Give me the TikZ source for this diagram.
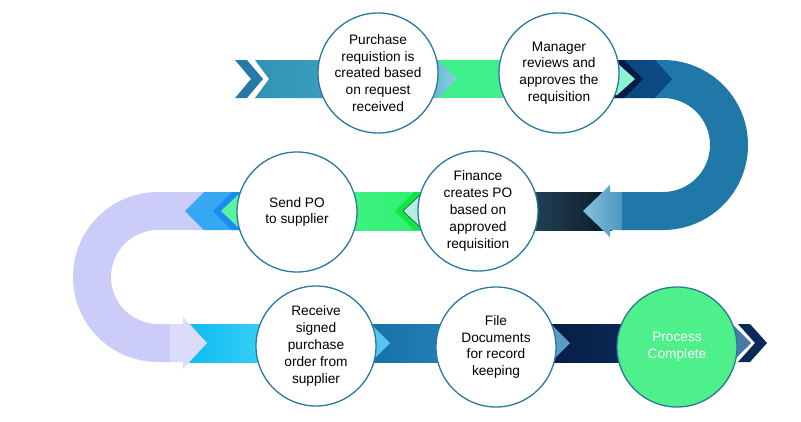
\documentclass[tikz,border=0pt]{standalone}
\usepackage{fontspec}
\setmainfont{Liberation Sans}
\definecolor{rimblue}{RGB}{42,120,160}
\definecolor{leadblue}{RGB}{40,120,168}
\definecolor{tealA}{RGB}{47,147,181}
\definecolor{tealB}{RGB}{74,174,200}
\definecolor{tealtip}{RGB}{141,208,223}
\definecolor{toplime}{RGB}{63,240,138}
\definecolor{navyband}{RGB}{10,74,128}
\definecolor{deepnavy}{RGB}{8,26,72}
\definecolor{mint}{RGB}{138,245,208}
\definecolor{bendblue}{RGB}{31,120,168}
\definecolor{arrowA}{RGB}{134,192,218}
\definecolor{arrowB}{RGB}{77,152,192}
\definecolor{slateA}{RGB}{37,68,90}
\definecolor{slateB}{RGB}{11,26,40}
\definecolor{midlimeA}{RGB}{90,244,160}
\definecolor{midlimeB}{RGB}{46,240,112}
\definecolor{brightlime}{RGB}{16,230,64}
\definecolor{palemint}{RGB}{181,240,221}
\definecolor{skyblue}{RGB}{54,168,242}
\definecolor{skydeep}{RGB}{26,140,240}
\definecolor{lavender}{RGB}{203,205,248}
\definecolor{lavlight}{RGB}{220,220,250}
\definecolor{cyanA}{RGB}{12,188,240}
\definecolor{cyanB}{RGB}{76,216,248}
\definecolor{cyantip}{RGB}{86,198,240}
\definecolor{oceanA}{RGB}{22,112,168}
\definecolor{oceanB}{RGB}{42,132,188}
\definecolor{oceantip}{RGB}{90,156,200}
\definecolor{nightA}{RGB}{6,28,68}
\definecolor{nightB}{RGB}{12,45,92}
\definecolor{endtip}{RGB}{74,120,168}
\definecolor{endnavy}{RGB}{10,40,88}
\definecolor{donegreen}{RGB}{77,240,138}
\tikzset{
  stepcircle/.style={circle, draw=rimblue, line width=1.3pt, fill=white, minimum size=120pt,
    inner sep=0pt, align=center, font=\fontsize{13.7}{16.8}\selectfont},
}

\begin{document}
\begin{tikzpicture}[x=1pt, y=-1pt]
  \useasboundingbox (0,0) rectangle (801,421);

  % bends
  \fill[bendblue] (650,60) -- (663,60) arc[start angle=-90, end angle=90, radius=85] -- (622,230) -- (622,192)
    -- (663,192) arc[start angle=90, end angle=-90, radius=47] -- (650,98) -- cycle;
  \fill[lavender] (205,192) -- (158,192) arc[start angle=-90, end angle=-270, radius=85] -- (170,362) -- (170,324)
    -- (158,324) arc[start angle=90, end angle=270, radius=47] -- (205,230) -- cycle;

  % top row
  \fill[toplime] (436,60) -- (612,60) -- (612,98) -- (436,98) -- cycle;
  \fill[leadblue] (235,60) -- (247,60) -- (263,79) -- (247,98) -- (235,98) -- (251,79) -- cycle;
  \shade[left color=tealA, right color=tealB] (255,60) -- (430,60) -- (430,98) -- (255,98) -- (269,79) -- cycle;
  \shade[left color=tealB, right color=tealtip] (420,60) -- (438,60) -- (457,79) -- (438,98) -- (420,98) -- cycle;
  \fill[navyband] (600,60) -- (655,60) -- (672,79) -- (655,98) -- (600,98) -- cycle;
  \fill[deepnavy] (600,60) -- (624,60) -- (643,79) -- (624,98) -- (600,98) -- cycle;
  \fill[mint] (600,63) -- (617,63) -- (635,79) -- (617,95) -- (600,95) -- cycle;

  % middle row
  \shade[left color=slateA, right color=slateB] (525,192) -- (612,192) -- (612,230) -- (525,230) -- cycle;
  \shade[left color=arrowA, right color=arrowB] (622,192) -- (610,192) -- (610,185) -- (583,211) -- (610,237)
    -- (610,230) -- (622,230) -- cycle;
  \shade[left color=midlimeA, right color=midlimeB] (240,192) -- (425,192) -- (425,230) -- (240,230) -- cycle;
  \fill[brightlime] (430,192) -- (414,192) -- (395,211) -- (414,230) -- (430,230) -- cycle;
  \filldraw[fill=palemint, draw=slateA, line width=0.6pt] (430,194) -- (421,194) -- (403,211) -- (421,228) -- (430,228) -- cycle;
  \fill[skyblue] (250,192) -- (204,192) -- (185,211) -- (204,230) -- (250,230) -- cycle;
  \fill[skydeep] (250,192) -- (232,192) -- (213,211) -- (232,230) -- (250,230) -- cycle;
  \fill[midlimeA] (250,195) -- (238,195) -- (221,211) -- (238,227) -- (250,227) -- cycle;

  % bottom row
  \shade[left color=cyanA, right color=cyanB] (185,324) -- (300,324) -- (300,362) -- (185,362) -- cycle;
  \fill[lavlight] (170,324) -- (183,324) -- (183,317) -- (207,343) -- (183,369) -- (183,362) -- (170,362) -- cycle;
  \shade[left color=oceanA, right color=oceanB] (360,324) -- (480,324) -- (480,362) -- (360,362) -- cycle;
  \fill[cyantip] (360,326) -- (373,326) -- (390,343) -- (373,360) -- (360,360) -- cycle;
  \shade[left color=nightA, right color=nightB] (540,324) -- (660,324) -- (660,362) -- (540,362) -- cycle;
  \fill[oceantip] (540,326) -- (553,326) -- (570,343) -- (553,360) -- (540,360) -- cycle;
  \fill[endtip] (720,326) -- (734,326) -- (751,343) -- (734,360) -- (720,360) -- cycle;
  \fill[endnavy] (738,324) -- (750,324) -- (767,343) -- (750,362) -- (738,362) -- (755,343) -- cycle;

  % steps
  \node[stepcircle] (request) at (378,73) {Purchase\\requistion is\\created based\\on request\\received};
  \node[stepcircle] (approve) at (559,73) {Manager\\reviews and\\approves the\\requisition};
  \node[stepcircle] (finance) at (478,211) {Finance\\creates PO\\based on\\approved\\requisition};
  \node[stepcircle] (sendpo) at (297,212) {Send PO\\to supplier};
  \node[stepcircle] (receive) at (316,346) {Receive\\signed\\purchase\\order from\\supplier};
  \node[stepcircle] (filedocs) at (496,347) {File\\Documents\\for record\\keeping};
  \node[stepcircle, fill=donegreen, text=white] (complete) at (677,347) {Process\\Complete};
\end{tikzpicture}
\end{document}
